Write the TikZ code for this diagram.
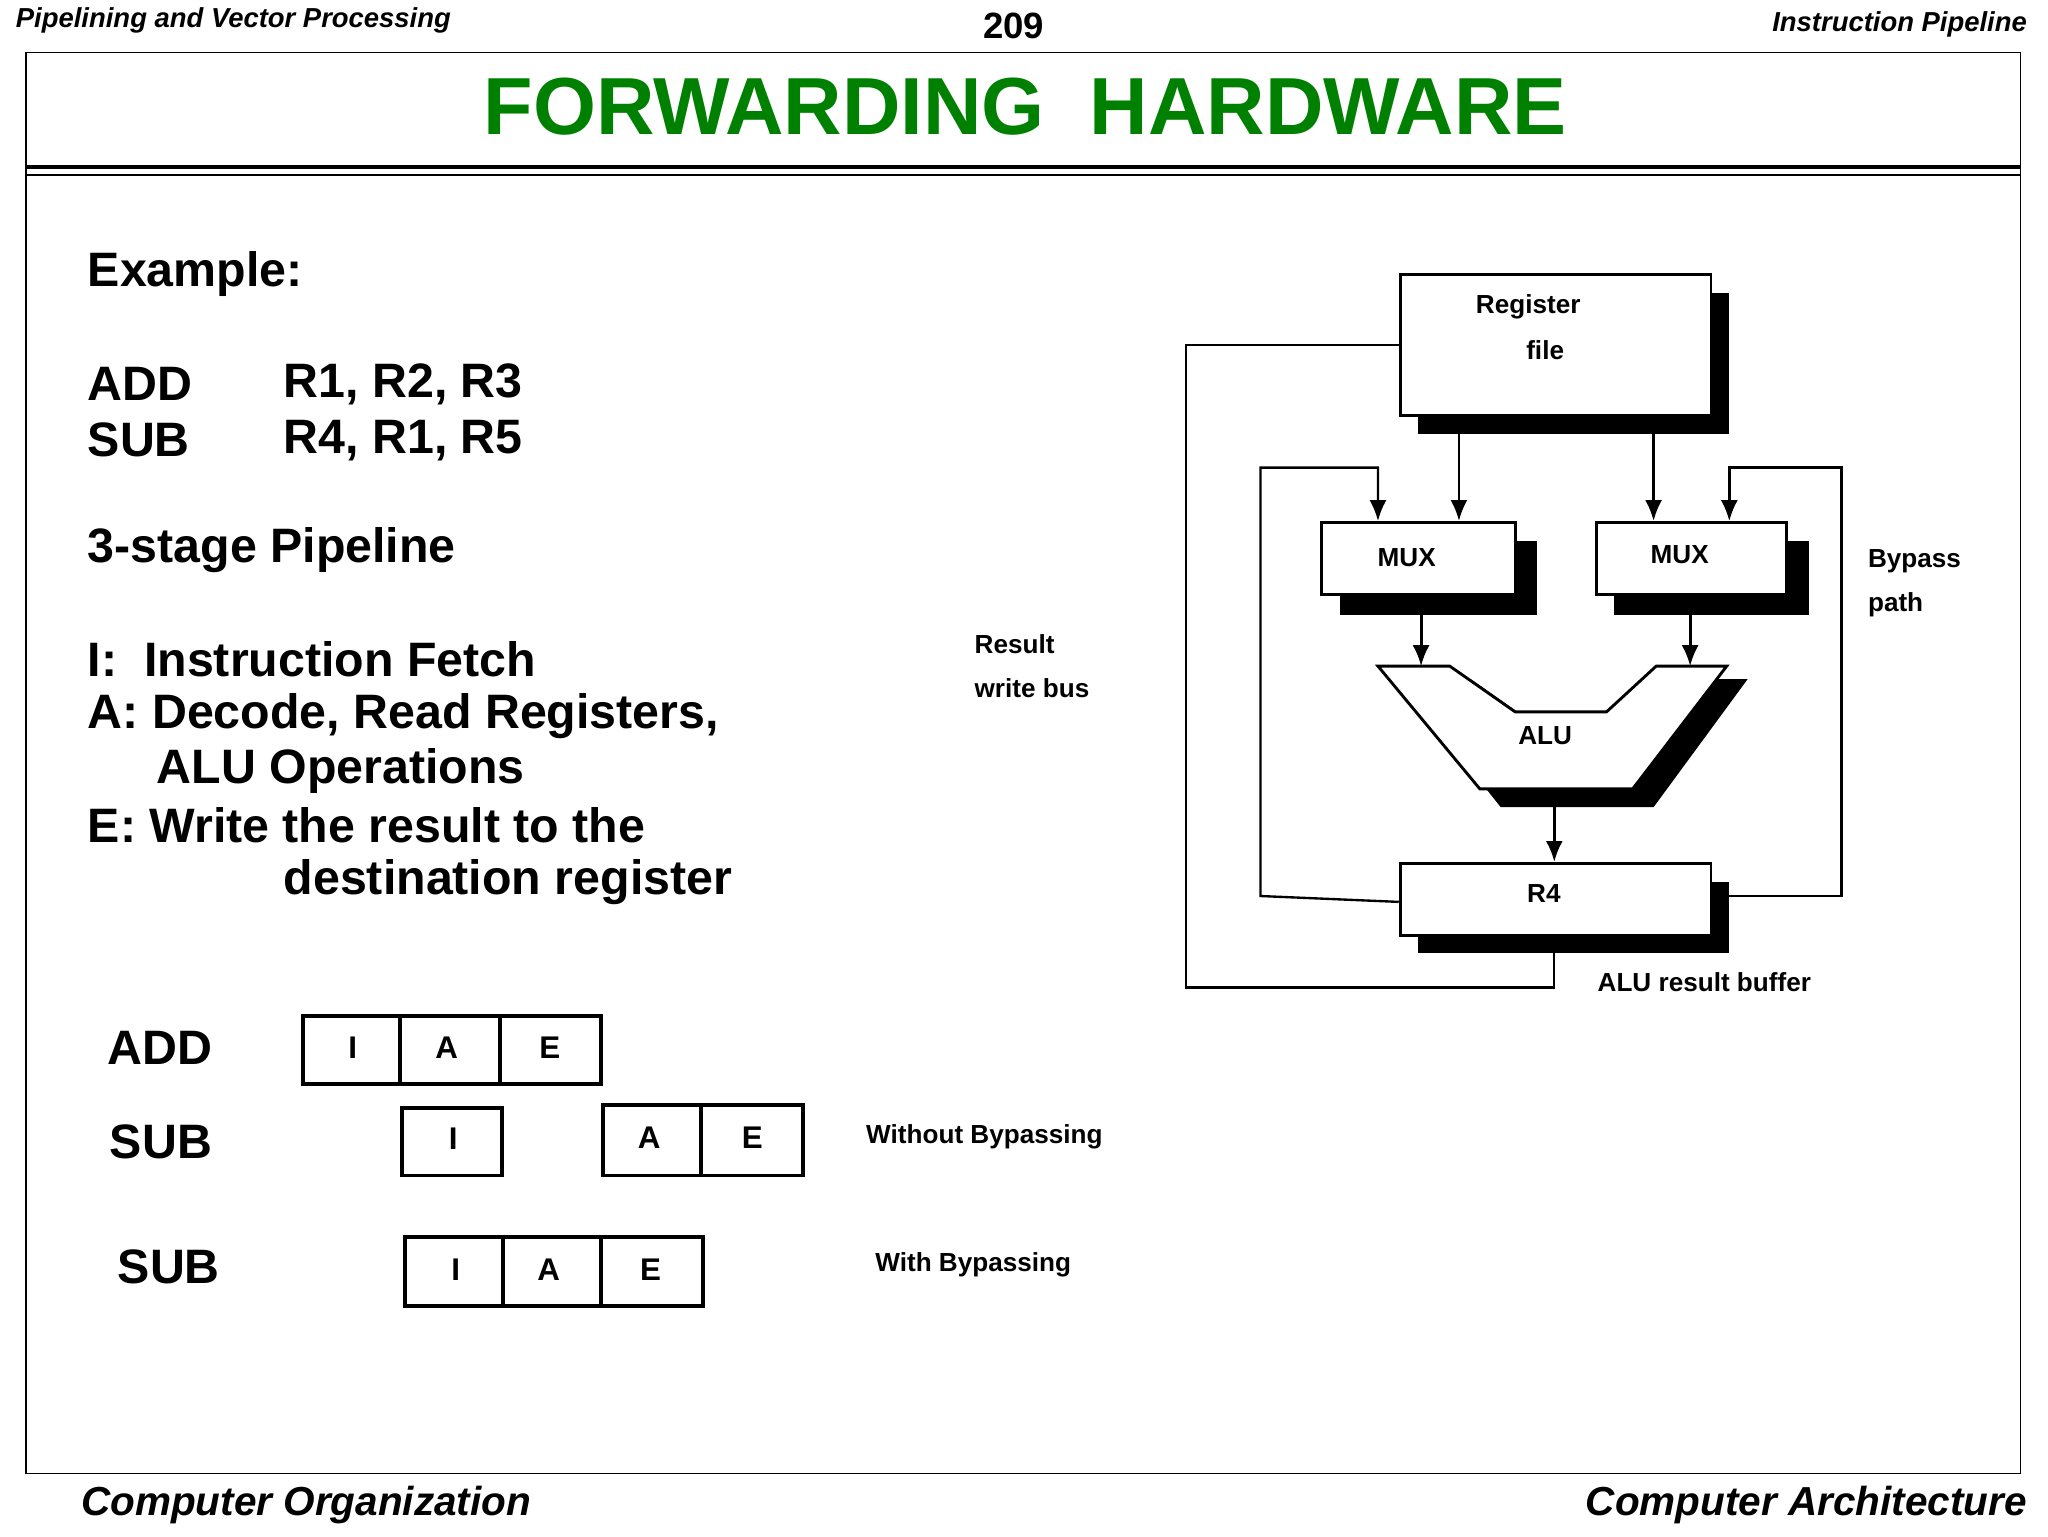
\documentclass[tikz,border=0pt]{standalone}
\usepackage{fontspec}
\setmainfont{Liberation Sans}
\usetikzlibrary{arrows.meta}
\begin{document}
\begin{tikzpicture}[x=1pt,y=-1pt,
  lw/.style={line width=2.2pt},
  box/.style={draw,lw,fill=white,inner sep=0,minimum width=#1},
  arr/.style={lw,-{Latex[length=16pt,width=13pt]}},
  dl/.style={font=\fontsize{20}{24}\selectfont\bfseries,inner sep=0},
  big/.style={font=\fontsize{37}{44}\selectfont\bfseries,inner sep=0,anchor=west},
  cell/.style={font=\fontsize{24}{28}\selectfont\bfseries,inner sep=0}]
\useasboundingbox (0,0) rectangle (1568,1176);
% header
\node[anchor=west,inner sep=0,font=\fontsize{21}{24}\selectfont\bfseries\itshape] (h1) at (12,16) {Pipelining and Vector Processing};
\node[inner sep=0,font=\fontsize{28}{32}\selectfont\bfseries] (h2) at (776,20) {209};
\node[anchor=east,inner sep=0,font=\fontsize{21}{24}\selectfont\bfseries\itshape] (h3) at (1552,19) {Instruction Pipeline};
\draw[line width=1pt] (20,40) rectangle (1547,1128);
\draw[line width=3.5pt] (20,128) -- (1547,128);
\draw[line width=1.5pt] (20,134) -- (1547,134);
\node[inner sep=0,text=green!50!black,font=\fontsize{62}{70}\selectfont\bfseries] (title) at (785,82) {FORWARDING\ \ HARDWARE};
\node[anchor=west,inner sep=0,font=\fontsize{31}{36}\selectfont\bfseries\itshape] (f1) at (62,1152) {Computer Organization};
\node[anchor=east,inner sep=0,font=\fontsize{31}{36}\selectfont\bfseries\itshape] (f2) at (1552,1152) {Computer Architecture};
% left text
\node[big] (t1) at (67,210) {Example:};
\node[big] (t2) at (67,294) {ADD};
\node[big] (t2b) at (217,294) {R1, R2, R3};
\node[big] (t3) at (67,337) {SUB};
\node[big] (t3b) at (217,337) {R4, R1, R5};
\node[big] (t4) at (67,421) {3-stage Pipeline};
\node[big] (t5) at (67,505) {I:\ \ Instruction Fetch};
\node[big] (t6) at (67,548) {A: Decode, Read Registers,};
\node[big] (t7) at (120,590) {ALU Operations};
\node[big] (t8) at (67,632) {E: Write the result to the};
\node[big] (t9) at (217,675) {destination register};
% pipeline rows
\node[big] (r1) at (82,802) {ADD};
\node[big] (r2) at (84,874) {SUB};
\node[big] (r3) at (90,970) {SUB};
\draw[line width=3pt] (232,778) rectangle (460,830) (306,778)--(306,830) (383,778)--(383,830);
\node[cell] (c1) at (270,802) {I};
\node[cell] (c2) at (342,802) {A};
\node[cell] (c3) at (421,802) {E};
\draw[line width=3pt] (308,848) rectangle (384,900);
\draw[line width=3pt] (462,846) rectangle (615,900) (537,846)--(537,900);
\node[cell] (c4) at (347,872) {I};
\node[cell] (c5) at (497,871) {A};
\node[cell] (c6) at (576,871) {E};
\draw[line width=3pt] (310,947) rectangle (538,1000) (385,947)--(385,1000) (460,947)--(460,1000);
\node[cell] (c7) at (349,972) {I};
\node[cell] (c8) at (420,972) {A};
\node[cell] (c9) at (498,972) {E};
\node[dl,anchor=west] (wb1) at (663,870) {Without Bypassing};
\node[dl,anchor=west] (wb2) at (670,968) {With Bypassing};
% diagram
\fill (1086,224) rectangle (1324,332);
\node[box=238pt,minimum height=108pt] (rf) at (1191,264) {};
\node[dl] (rft1) at (1170,235) {Register};
\node[dl] (rft2) at (1183,268) {file};
\fill (1026,414) rectangle (1177,471);
\node[box=148pt,minimum height=55pt] (m1) at (1086,427.5) {};
\node[dl] (m1t) at (1077,427) {MUX};
\fill (1236,414) rectangle (1385,471);
\node[box=146pt,minimum height=55pt] (m2) at (1295,427.5) {};
\node[dl] (m2t) at (1286,425) {MUX};
% ALU
\fill (1071,520)--(1126,520)--(1176,555)--(1246,555)--(1284,520)--(1338,520)--(1266,618)--(1149,618)--cycle;
\draw[lw,fill=white] (1055,510)--(1110,510)--(1160,545)--(1230,545)--(1268,510)--(1322,510)--(1250,604)--(1133,604)--cycle;
\coordinate (alut1) at (1088,510);
\coordinate (alut2) at (1294,510);
\coordinate (alub) at (1190,604);
\node[dl] (alut) at (1183,563) {ALU};
\fill (1086,675) rectangle (1324,730);
\node[box=238pt,minimum height=55pt] (r4) at (1191,688.5) {};
\node[dl] (r4t) at (1182,684) {R4};
% arrows
\draw[arr] ([xshift=-74pt]rf.south) -- ([xshift=31pt]m1.north);
\draw[arr] ([xshift=75pt]rf.south) -- ([xshift=-29pt]m2.north);
\draw[arr] (1088,471) -- (alut1);
\draw[arr] (1294,471) -- (alut2);
\draw[arr] (alub) -- (r4.north -| alub);
\draw[line width=1.8pt,-{Latex[length=16pt,width=13pt]}] ([yshift=-2pt]r4.west) -- (965,686) -- (965,358) -- (1055,358) -- ([xshift=-31pt]m1.north);
\draw[line width=1.8pt,-{Latex[length=16pt,width=13pt]}] (1324,686) -- (1410,686) -- (1410,358) -- (1324,358) -- ([xshift=29pt]m2.north);
\draw[line width=1.8pt] (rf.west) -- (908,264) -- (908,756) -- (1190,756) -- (1190,730);
\node[dl,anchor=west] (l1) at (746,493) {Result};
\node[dl,anchor=west] (l2) at (746,527) {write bus};
\node[dl,anchor=west] (l3) at (1430,430) {Bypass};
\node[dl,anchor=west] (l4) at (1430,463) {path};
\node[dl,anchor=west] (l5) at (1223,752) {ALU result buffer};
\end{tikzpicture}
\end{document}
